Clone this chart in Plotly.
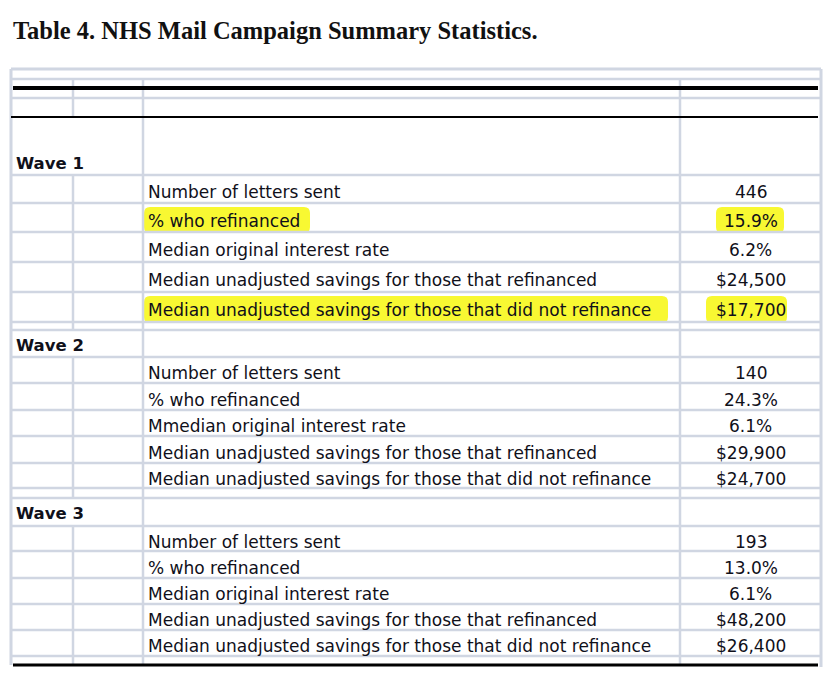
import plotly.graph_objects as go

# ---------------- data ----------------
title_text = "Table 4. NHS Mail Campaign Summary Statistics."
waves = ["Wave 1", "Wave 2", "Wave 3"]
wave1_labels = ["Number of letters sent", "% who refinanced", "Median original interest rate",
                "Median unadjusted savings for those that refinanced",
                "Median unadjusted savings for those that did not refinance"]
wave1_values = ["446", "15.9%", "6.2%", "$24,500", "$17,700"]
wave2_labels = ["Number of letters sent", "% who refinanced", "Mmedian original interest rate",
                "Median unadjusted savings for those that refinanced",
                "Median unadjusted savings for those that did not refinance"]
wave2_values = ["140", "24.3%", "6.1%", "$29,900", "$24,700"]
wave3_labels = ["Number of letters sent", "% who refinanced", "Median original interest rate",
                "Median unadjusted savings for those that refinanced",
                "Median unadjusted savings for those that did not refinance"]
wave3_values = ["193", "13.0%", "6.1%", "$48,200", "$26,400"]
highlighted = [(0, 1), (0, 4)]  # (wave index, row index)

# ---------------- layout geometry ----------------
W, H = 840, 684
PAGE_MARGIN = 8  # default browser body margin
GREY = "#D0D6E2"
TXT = "#10101a"
FONT = "DejaVu Sans"
FS = 17
X_LEFT, X_C1, X_C2, X_C3, X_RIGHT = 11, 73, 143, 680, 821
TOP, HL1, BLK1, HL2, BLK2 = 69, 79, 88, 98, 117
wave_blocks = [
    dict(label_top=117, label_y=163, rows=[175, 203, 232, 262, 292, 322], end=330),
    dict(label_top=330, label_y=345, rows=[357, 383, 410, 436, 463, 488], end=498),
    dict(label_top=498, label_y=513, rows=[526, 551, 578, 604, 630, 656], end=665),
]
BOTTOM = 665
labels_all = [wave1_labels, wave2_labels, wave3_labels]
values_all = [wave1_values, wave2_values, wave3_values]
hl_label_right = {1: 310, 4: 668}
hl_value_x = {1: (716, 784), 4: (706, 787)}

shapes = []
annotations = []


def line(x0, y0, x1, y1, color=GREY, width=2.5):
    shapes.append(dict(type="line", xref="x", yref="y", x0=x0, y0=y0, x1=x1, y1=y1,
                       line=dict(color=color, width=width), layer="below"))


def rounded(x0, y0, x1, y1, r=6, color="#F8F832"):
    p = (f"M {x0+r},{y0} L {x1-r},{y0} Q {x1},{y0} {x1},{y0+r} L {x1},{y1-r} "
         f"Q {x1},{y1} {x1-r},{y1} L {x0+r},{y1} Q {x0},{y1} {x0},{y1-r} "
         f"L {x0},{y0+r} Q {x0},{y0} {x0+r},{y0} Z")
    shapes.append(dict(type="path", xref="x", yref="y", path=p, fillcolor=color,
                       line=dict(width=0), layer="below"))


for (wi, ri) in highlighted:
    b = wave_blocks[wi]
    y0, y1 = b["rows"][ri] + 4, b["rows"][ri + 1] + 1
    rounded(X_C2 + 1, y0, hl_label_right[ri], y1)
    vx0, vx1 = hl_value_x[ri]
    rounded(vx0, y0, vx1, y1)

# outer frame
line(X_LEFT, TOP, X_RIGHT, TOP, width=3)
line(X_LEFT, TOP, X_LEFT, BOTTOM, width=3)
line(X_RIGHT, TOP, X_RIGHT, BOTTOM + 2, width=3)

for y in [HL1, HL2]:
    line(X_LEFT, y, X_RIGHT, y)
for b in wave_blocks:
    for y in b["rows"]:
        line(X_LEFT, y, X_RIGHT, y)
    if b["end"] != BOTTOM:
        line(X_LEFT, b["end"], X_RIGHT, b["end"])

for x in [X_C2, X_C3]:
    line(x, HL1, x, BOTTOM)
line(X_C1, HL1, X_C1, BLK2)
for b in wave_blocks:
    line(X_C1, b["rows"][0], X_C1, b["end"])

line(X_LEFT + 2, BLK1, X_RIGHT - 3, BLK1, color="#000000", width=4)
line(X_LEFT, BLK2, X_RIGHT - 3, BLK2, color="#000000", width=2.2)
line(X_LEFT + 2, BOTTOM, X_RIGHT - 3, BOTTOM, color="#000000", width=3)

for wi, (b, wname) in enumerate(zip(wave_blocks, waves)):
    annotations.append(dict(x=X_LEFT + 3, y=b["label_y"], xref="x", yref="y", text=f"<b>{wname}</b>",
                            showarrow=False, xanchor="left", yanchor="middle",
                            font=dict(family=FONT, size=FS - 0.5, color=TXT)))
    for ri, (lab, val) in enumerate(zip(labels_all[wi], values_all[wi])):
        yc = (b["rows"][ri] + b["rows"][ri + 1]) / 2 + 3
        annotations.append(dict(x=X_C2 + 3, y=yc, xref="x", yref="y", text=lab,
                                showarrow=False, xanchor="left", yanchor="middle",
                                font=dict(family=FONT, size=FS, color=TXT)))
        annotations.append(dict(x=(X_C3 + X_RIGHT) / 2, y=yc, xref="x", yref="y", text=val,
                                showarrow=False, xanchor="center", yanchor="middle",
                                font=dict(family=FONT, size=FS, color=TXT)))

annotations.append(dict(x=11, y=30, xref="x", yref="y", text=f"<b>{title_text}</b>",
                        showarrow=False, xanchor="left", yanchor="middle",
                        font=dict(family="Liberation Serif", size=24.5, color="#111111")))

FW, FH = W - PAGE_MARGIN, H - PAGE_MARGIN
fig = go.Figure()
fig.add_trace(go.Scatter(x=[PAGE_MARGIN, W], y=[PAGE_MARGIN, H], mode="markers", marker=dict(opacity=0),
                         hoverinfo="skip", showlegend=False))
fig.update_layout(
    width=FW, height=FH, autosize=False,
    margin=dict(l=0, r=0, t=0, b=0),
    paper_bgcolor="white", plot_bgcolor="white",
    xaxis=dict(range=[PAGE_MARGIN, W], visible=False, fixedrange=True),
    yaxis=dict(range=[H, PAGE_MARGIN], visible=False, fixedrange=True),
    shapes=shapes, annotations=annotations, showlegend=False,
)
fig.write_html("out.html", config={"displayModeBar": False})
